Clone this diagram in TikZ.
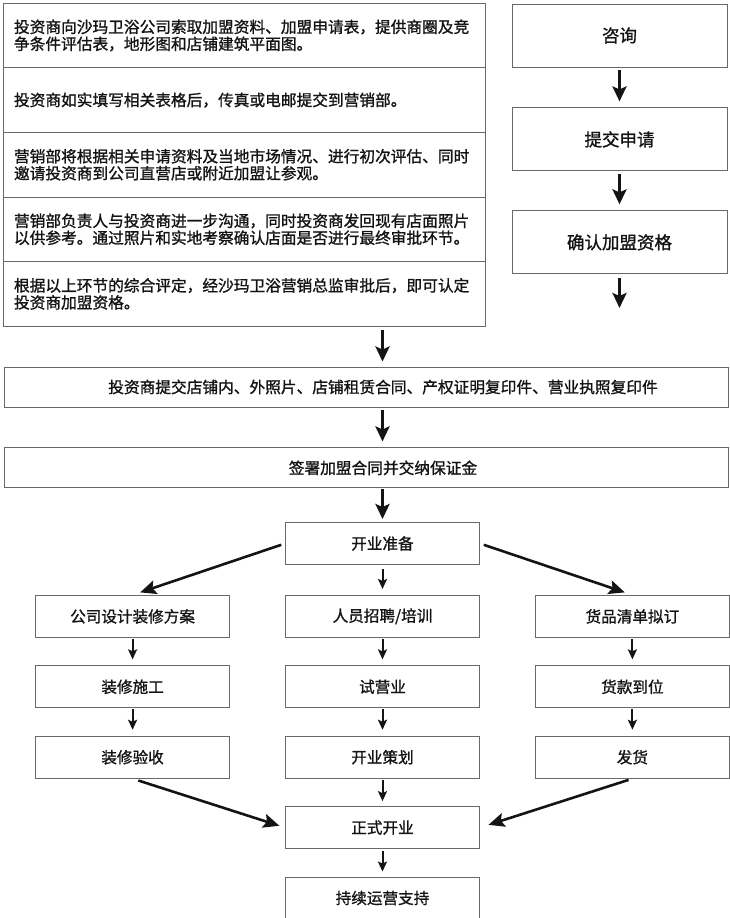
\documentclass[tikz,border=0pt]{standalone}
\usepackage{fontspec}
\setmainfont{Noto Sans CJK SC}[FakeBold=1.2]
\usepackage{xcolor}
\usepackage{tikz}
\usetikzlibrary{arrows.meta, positioning}
\definecolor{boxgray}{RGB}{105,105,105}
\definecolor{inkblack}{RGB}{20,20,20}
\tikzset{
  rowbox/.style={rectangle, draw=boxgray, line width=0.9pt, outer sep=0pt,
    text width=460pt, inner xsep=11pt, align=left, minimum height=64.6pt,
    font=\fontsize{15.7}{17}\selectfont, text=inkblack},
  stepbox/.style={rectangle, draw=boxgray, line width=0.9pt,
    minimum width=215pt, minimum height=63pt,
    font=\fontsize{17.5}{20}\selectfont, text=inkblack},
  widebox/.style={rectangle, draw=boxgray, line width=0.9pt,
    minimum width=724pt, minimum height=40pt,
    font=\fontsize{15.7}{18}\selectfont, text=inkblack},
  taskbox/.style={rectangle, draw=boxgray, line width=0.9pt,
    minimum width=194pt, minimum height=42pt,
    font=\fontsize{15.6}{18}\selectfont, text=inkblack},
  bigarrow/.style={-{Stealth[length=15pt, width=14pt, inset=3pt]}, line width=3.2pt, color=inkblack},
  smallarrow/.style={-{Stealth[length=10pt, width=9pt, inset=2pt]}, line width=2pt, color=inkblack},
  slantarrow/.style={-{Stealth[length=16pt, width=14pt, inset=3pt]}, line width=2.6pt, color=inkblack}
}

\begin{document}
\begin{tikzpicture}[x=1pt, y=-1pt, node distance=27.5pt and 55pt]
  \useasboundingbox (0,0) rectangle (730,918);

  \node [rowbox] (r1) at (244,35.5) {投资商向沙玛卫浴公司索取加盟资料、加盟申请表，提供商圈及竞\\争条件评估表，地形图和店铺建筑平面图。};
  \node [rowbox, below=0pt of r1] (r2) {投资商如实填写相关表格后，传真或电邮提交到营销部。};
  \node [rowbox, below=0pt of r2] (r3) {营销部将根据相关申请资料及当地市场情况、进行初次评估、同时\\邀请投资商到公司直营店或附近加盟让参观。};
  \node [rowbox, below=0pt of r3] (r4) {营销部负责人与投资商进一步沟通，同时投资商发回现有店面照片\\以供参考。通过照片和实地考察确认店面是否进行最终审批环节。};
  \node [rowbox, below=0pt of r4] (r5) {根据以上环节的综合评定，经沙玛卫浴营销总监审批后，即可认定\\投资商加盟资格。};

  \node [stepbox] (q1) at (619.5,35.5) {咨询};
  \node [stepbox, below=40pt of q1] (q2) {提交申请};
  \node [stepbox, below=39pt of q2] (q3) {确认加盟资格};
  \coordinate (q4) at (619.5,308);

  \draw [bigarrow, shorten <=3pt, shorten >=6pt] (q1) -- (q2);
  \draw [bigarrow, shorten <=3pt, shorten >=6pt] (q2) -- (q3);
  \draw [bigarrow, shorten <=4pt] (q3) -- (q4);

  \node [widebox] (w1) at (366,387) {\hspace*{34pt}投资商提交店铺内、外照片、店铺租赁合同、产权证明复印件、营业执照复印件};
  \node [widebox, below=40pt of w1] (w2) {\hspace*{34pt}签署加盟合同并交纳保证金};

  \node [taskbox] (prep) at (382.5,543.5) {开业准备};
  \node [taskbox, below=30pt of prep] (b1) {人员招聘/培训};
  \node [taskbox, left=of b1] (a1) {公司设计装修方案};
  \node [taskbox, right=of b1] (g1) {货品清单拟订};
  \node [taskbox, below=of a1] (a2) {装修施工};
  \node [taskbox, below=of b1] (b2) {试营业};
  \node [taskbox, below=of g1] (g2) {货款到位};
  \node [taskbox, below=of a2] (a3) {装修验收};
  \node [taskbox, below=of b2] (b3) {开业策划};
  \node [taskbox, below=of g2] (g3) {发货};
  \node [taskbox, below=of b3] (open) {正式开业};
  \node [taskbox, below=of open] (support) {持续运营支持};

  \draw [bigarrow, shorten <=4pt, shorten >=5pt] (r5.south -| prep) -- (w1.north -| prep);
  \draw [bigarrow, shorten <=3pt, shorten >=6pt] (w1.south -| prep) -- (w2.north -| prep);
  \draw [bigarrow, shorten <=1pt, shorten >=3pt] (w2.south -| prep) -- (prep);

  \draw [slantarrow, shorten <=4pt, shorten >=8pt] (prep.west) -- (a1.north);
  \draw [slantarrow, shorten <=4pt, shorten >=8pt] (prep.east) -- (g1.north);
  \draw [smallarrow, shorten <=4pt, shorten >=6pt] (prep) -- (b1);
  \foreach \col in {a,b,g} {
    \draw [smallarrow, shorten <=1pt, shorten >=6pt] (\col1) -- (\col2);
    \draw [smallarrow, shorten <=1pt, shorten >=6pt] (\col2) -- (\col3);
  }
  \draw [smallarrow, shorten <=1.5pt, shorten >=5pt] (b3) -- (open);
  \draw [slantarrow, shorten <=6pt, shorten >=6pt] (a3.south) -- (open.west);
  \draw [slantarrow, shorten <=4pt, shorten >=9pt] (g3.south) -- (open.east);
  \draw [smallarrow, shorten <=2pt, shorten >=5pt] (open) -- (support);
\end{tikzpicture}
\end{document}
